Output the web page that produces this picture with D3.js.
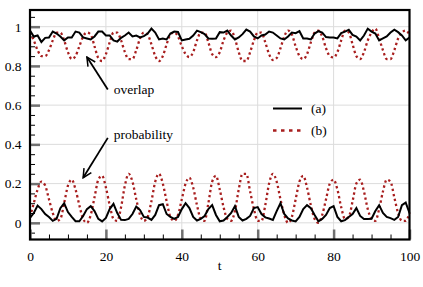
<!DOCTYPE html>
<html>
<head>
<meta charset="utf-8">
<script src="https://cdn.jsdelivr.net/npm/d3@7"></script>
<style>
  body { margin: 0; background: #fff; }
  text { font-family: "Liberation Serif", "Times New Roman", serif; fill: #000; }
</style>
</head>
<body>
<div id="chart"></div>
<script>
// t = 0..100, step 1
const overlapA = [0.98,0.95,0.955,0.922,0.943,0.945,0.975,0.965,0.95,0.93,0.945,0.945,0.975,0.97,0.945,0.94,0.935,0.95,0.975,0.975,
  0.955,0.955,0.93,0.924,0.943,0.955,0.97,0.95,0.955,0.945,0.952,0.965,0.99,0.97,0.935,0.94,0.935,0.965,0.975,0.973,
  0.93,0.935,0.938,0.955,0.98,0.972,0.962,0.94,0.938,0.94,0.972,0.97,0.98,0.955,0.935,0.945,0.962,0.985,0.975,0.95,
  0.94,0.955,0.96,0.975,0.97,0.955,0.94,0.935,0.95,0.97,0.967,0.977,0.94,0.94,0.935,0.965,0.977,0.97,0.947,0.945,
  0.945,0.94,0.967,0.975,0.984,0.958,0.95,0.93,0.955,0.99,0.975,0.965,0.93,0.94,0.95,0.97,0.985,0.972,0.955,0.93,0.945];
const overlapB = [0.97,0.93,0.88,0.85,0.85,0.88,0.93,0.97,0.97,0.93,0.87,0.835,0.85,0.9,0.95,0.97,0.96,0.9,0.84,0.825,
  0.86,0.92,0.97,0.97,0.93,0.87,0.835,0.835,0.88,0.94,0.97,0.96,0.91,0.85,0.825,0.85,0.91,0.96,0.97,0.95,
  0.9,0.86,0.845,0.87,0.93,0.97,0.97,0.92,0.86,0.845,0.87,0.93,0.97,0.98,0.94,0.87,0.825,0.825,0.87,0.93,
  0.97,0.97,0.92,0.86,0.83,0.84,0.89,0.95,0.98,0.96,0.9,0.85,0.835,0.86,0.92,0.97,0.98,0.95,0.89,0.85,
  0.843,0.87,0.93,0.98,0.97,0.91,0.85,0.835,0.87,0.93,0.97,0.99,0.94,0.88,0.835,0.835,0.88,0.94,0.97,0.98,0.96];
const probA = [0.025,0.05,0.088,0.07,0.045,0.03,0.01,0.02,0.075,0.1,0.055,0.03,0.008,0.008,0.035,0.07,0.085,0.06,0.02,0.007,
  0.025,0.07,0.097,0.05,0.015,0.014,0.02,0.045,0.083,0.065,0.03,0.027,0.015,0.04,0.09,0.095,0.045,0.03,0.02,0.03,
  0.07,0.1,0.075,0.03,0.012,0.02,0.035,0.07,0.09,0.04,0.008,0.012,0.03,0.05,0.085,0.03,0.012,0.02,0.035,0.075,
  0.08,0.045,0.028,0.022,0.015,0.06,0.1,0.045,0.022,0.012,0.007,0.03,0.07,0.09,0.075,0.04,0.008,0.02,0.04,0.075,
  0.085,0.03,0.008,0.014,0.03,0.045,0.075,0.035,0.019,0.019,0.021,0.06,0.09,0.05,0.03,0.024,0.015,0.03,0.09,0.103,0.05];
const probB = [0.03,0.1,0.17,0.21,0.19,0.12,0.05,0.01,0.02,0.1,0.19,0.22,0.17,0.09,0.02,0.0,0.04,0.13,0.22,0.24,
  0.18,0.09,0.02,0.01,0.08,0.19,0.25,0.21,0.12,0.04,0.01,0.03,0.11,0.21,0.25,0.2,0.11,0.03,0.01,0.04,
  0.12,0.2,0.23,0.18,0.09,0.02,0.01,0.1,0.21,0.24,0.17,0.08,0.02,0.01,0.06,0.17,0.25,0.25,0.16,0.07,
  0.01,0.01,0.09,0.2,0.25,0.21,0.12,0.04,0.0,0.03,0.12,0.21,0.24,0.18,0.09,0.02,0.0,0.04,0.12,0.2,
  0.22,0.17,0.08,0.02,0.03,0.11,0.2,0.22,0.16,0.07,0.02,0.01,0.07,0.16,0.22,0.21,0.13,0.05,0.01,0.01,0.05];

const xTicks = [0, 20, 40, 60, 80, 100];
const yTicks = [0, 0.2, 0.4, 0.6, 0.8, 1];
const yTickLabels = ["0", "0.2", "0.4", "0.6", "0.8", "1"];

const width = 423, height = 287;
const margin = {top: 10, right: 13.5, bottom: 47.5, left: 30};

const svg = d3.select("#chart").append("svg")
    .attr("width", width)
    .attr("height", height);

const x = d3.scaleLinear().domain([0, 100]).range([margin.left, width - margin.right]);
const y = d3.scaleLinear().domain([-0.085, 1.085]).range([height - margin.bottom, margin.top]);

// grid
svg.append("g")
    .selectAll("line")
    .data(xTicks.slice(1, -1))
    .enter().append("line")
    .attr("x1", d => x(d)).attr("x2", d => x(d))
    .attr("y1", y.range()[0]).attr("y2", y.range()[1])
    .attr("stroke", "#dcdcdc");
svg.append("g")
    .selectAll("line")
    .data(yTicks)
    .enter().append("line")
    .attr("x1", x.range()[0]).attr("x2", x.range()[1])
    .attr("y1", d => y(d)).attr("y2", d => y(d))
    .attr("stroke", "#dcdcdc");

// minor ticks (inside)
const xMinor = d3.range(5, 100, 5).filter(d => d % 20 !== 0);
const yMinor = d3.range(-0.05, 1.06, 0.05).filter(d => Math.abs(d * 5 - Math.round(d * 5)) > 0.01);

svg.append("g")
    .attr("transform", `translate(0,${y.range()[0]})`)
    .call(d3.axisBottom(x).tickValues(xMinor).tickSize(-5).tickFormat(""))
    .call(g => g.select(".domain").remove())
    .selectAll("line").attr("stroke", "#000");
svg.append("g")
    .attr("transform", `translate(${x.range()[0]},0)`)
    .call(d3.axisLeft(y).tickValues(yMinor).tickSize(-5).tickFormat(""))
    .call(g => g.select(".domain").remove())
    .selectAll("line").attr("stroke", "#000");

// major ticks (inside, gray, thicker) + labels
svg.append("g")
    .attr("transform", `translate(0,${y.range()[0]})`)
    .call(d3.axisBottom(x).tickValues(xTicks).tickSizeInner(-10).tickSizeOuter(0).tickPadding(12))
    .call(g => g.select(".domain").remove())
    .call(g => g.selectAll("line").attr("stroke", "#707070").attr("stroke-width", 2.5))
    .call(g => g.selectAll("text").attr("font-size", 13.5).attr("font-family", "Liberation Serif").attr("fill", "#000"));
svg.append("g")
    .attr("transform", `translate(${x.range()[0]},0)`)
    .call(d3.axisLeft(y).tickValues(yTicks).tickFormat((d, i) => yTickLabels[i])
        .tickSizeInner(-10).tickSizeOuter(0).tickPadding(8.5))
    .call(g => g.select(".domain").remove())
    .call(g => g.selectAll("line").attr("stroke", "#707070").attr("stroke-width", 2.5))
    .call(g => g.selectAll("text").attr("font-size", 13.5).attr("font-family", "Liberation Serif").attr("fill", "#000"));

// lines
const lineA = d3.line().x((d, i) => x(i)).y(d => y(d));
const lineB = d3.line().x((d, i) => x(i)).y(d => y(d)).curve(d3.curveMonotoneX);

const plot = svg.append("g");
[overlapB, probB].forEach(s => {
    plot.append("path").datum(s)
        .attr("d", lineB)
        .attr("fill", "none")
        .attr("stroke", "#a81e1e")
        .attr("stroke-width", 2.3)
        .attr("stroke-dasharray", "2.3,2.8");
});
[overlapA, probA].forEach(s => {
    plot.append("path").datum(s)
        .attr("d", lineA)
        .attr("fill", "none")
        .attr("stroke", "#000")
        .attr("stroke-width", 2)
        .attr("stroke-linejoin", "miter");
});

// frame
svg.append("rect")
    .attr("x", x.range()[0]).attr("y", y.range()[1])
    .attr("width", x.range()[1] - x.range()[0])
    .attr("height", y.range()[0] - y.range()[1])
    .attr("fill", "none")
    .attr("stroke", "#000")
    .attr("stroke-width", 2.2);

// axis title
svg.append("text")
    .attr("x", (x.range()[0] + x.range()[1]) / 2)
    .attr("y", 270)
    .attr("text-anchor", "middle")
    .attr("font-size", 13.5)
    .text("t");

// legend
const legend = svg.append("g").attr("transform", "translate(273,108.5)");
legend.append("line").attr("x1", 0).attr("x2", 29).attr("y1", 0).attr("y2", 0)
    .attr("stroke", "#000").attr("stroke-width", 2);
legend.append("text").attr("x", 38).attr("y", 0).attr("dy", "0.35em").attr("font-size", 13.5).text("(a)");
legend.append("line").attr("x1", 0).attr("x2", 29).attr("y1", 22).attr("y2", 22)
    .attr("stroke", "#a81e1e").attr("stroke-width", 2.5).attr("stroke-dasharray", "3.5,4.5");
legend.append("text").attr("x", 38).attr("y", 22).attr("dy", "0.35em").attr("font-size", 13.5).text("(b)");

// annotations
svg.append("defs").append("marker")
    .attr("id", "arrow")
    .attr("viewBox", "0 0 10 10")
    .attr("refX", 9).attr("refY", 5)
    .attr("markerWidth", 6).attr("markerHeight", 6)
    .attr("markerUnits", "strokeWidth")
    .attr("orient", "auto")
    .append("path")
    .attr("d", "M1,1 L9,5 L1,9")
    .attr("fill", "none")
    .attr("stroke", "#000")
    .attr("stroke-width", 1.4);

const notes = [
    {label: "overlap", tx: 22.1, ty: 0.655, from: [20.5, 0.68], to: [15, 0.845]},
    {label: "probability", tx: 22.1, ty: 0.425, from: [20.5, 0.433], to: [14, 0.23]}
];
notes.forEach(n => {
    svg.append("line")
        .attr("x1", x(n.from[0])).attr("y1", y(n.from[1]))
        .attr("x2", x(n.to[0])).attr("y2", y(n.to[1]))
        .attr("stroke", "#000").attr("stroke-width", 1.8)
        .attr("marker-end", "url(#arrow)");
    svg.append("text")
        .attr("x", x(n.tx)).attr("y", y(n.ty))
        .attr("font-size", 13.5)
        .text(n.label);
});
</script>
</body>
</html>
